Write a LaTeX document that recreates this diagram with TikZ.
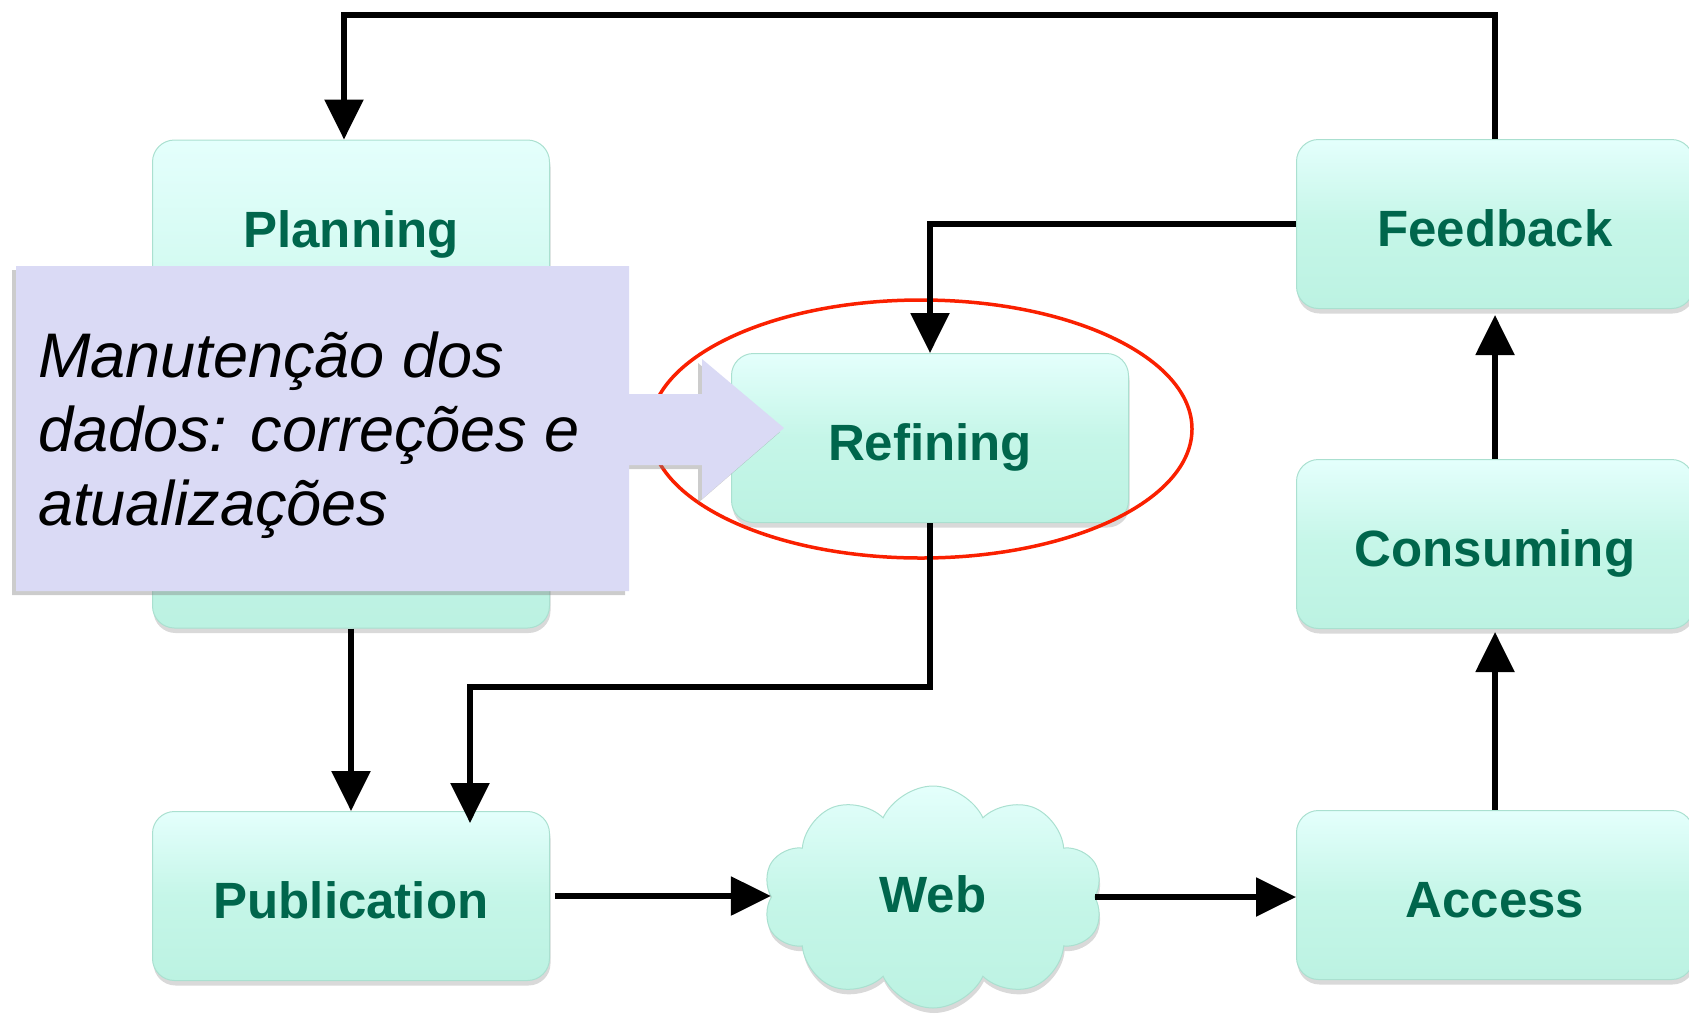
\documentclass[tikz,border=0pt]{standalone}
\usepackage{fontspec}
\setmainfont{Liberation Sans}
\usetikzlibrary{arrows.meta,shapes.symbols,shapes.geometric,shadows}

\definecolor{labelgreen}{RGB}{0,102,76}
\definecolor{mintTop}{RGB}{228,255,252}
\definecolor{mintMid}{RGB}{197,246,232}
\definecolor{mintBot}{RGB}{188,242,226}
\definecolor{mintEdge}{RGB}{170,224,208}
\definecolor{notefill}{RGB}{218,218,245}
\definecolor{ringred}{RGB}{250,32,0}

\begin{document}
\begin{tikzpicture}[x=1pt,y=-1pt,
  stagefill/.style={top color=mintTop, bottom color=mintBot, middle color=mintMid,
    draw=mintEdge, line width=1pt,
    drop shadow={shadow xshift=1pt, shadow yshift=-5pt, opacity=0.3}},
  stage/.style={stagefill, rectangle, rounded corners=22pt, inner sep=0pt,
    minimum width=397pt, minimum height=169pt,
    font=\fontsize{51}{51}\selectfont\bfseries, text=labelgreen,
    text height=45pt, text depth=0pt},
  stagelabel/.style={font=\fontsize{51}{51}\selectfont\bfseries, text=labelgreen,
    inner sep=0pt, anchor=base},
  webcloud/.style={stagefill, cloud, cloud puffs=10, cloud puff arc=130, aspect=1.5,
    inner sep=0pt, minimum width=340pt, minimum height=222pt,
    font=\fontsize{51}{51}\selectfont\bfseries, text=labelgreen,
    text height=30pt, text depth=0pt},
  focusring/.style={ellipse, draw=ringred, line width=3.5pt, inner sep=0pt,
    minimum width=542pt, minimum height=258pt},
  flow/.style={line width=5.5pt, -{Triangle[width=38pt,length=40pt]}},
  notetext/.style={font=\fontsize{63}{74}\selectfont\itshape, align=left,
    inner sep=0pt, anchor=north west}
]
\useasboundingbox (0,0) rectangle (1689,1013);

% process stages
\node[stage, minimum height=488pt] (planning) at (351,384) {};
\node[stagelabel] (planninglabel) at (351,247) {Planning};
\node[stage] (publication) at (351,896) {Publication};
\node[stage] (refining) at (930,438) {Refining};
\node[stage] (feedback) at (1495,224) {Feedback};
\node[stage] (consuming) at (1495,544) {Consuming};
\node[stage] (access) at (1495,895) {Access};
\node[webcloud] (web) at (933,897) {Web};

% highlight around the refining stage
\node[focusring] (focus) at (921,429) {};

% connectors
\coordinate (topleft) at (344,15);
\coordinate (refbend) at (470,687);
\draw[flow] (feedback.north) |- (topleft) -- (topleft |- planning.north);
\draw[flow] (feedback.west) -| (refining.north);
\draw[flow] (planning.south) -- (publication.north);
\draw[flow, shorten >=-12pt] (refining.south) |- (refbend) -- (refbend |- publication.north);
\draw[flow, shorten <=5pt] (publication.east) -- (publication.east -| web.west);
\draw[flow] (web.east) -- (web.east -| access.west);
\draw[flow, shorten >=3pt] (access.north) -- (consuming.south);
\draw[flow, shorten >=6pt] (consuming.north) -- (feedback.south);

% callout note pointing at the refining stage
\fill[notefill, drop shadow={shadow xshift=-4pt, shadow yshift=-4pt, opacity=0.4}]
  (16,266) -- (629,266) -- (629,394) -- (702,394) -- (702,359) -- (784,428)
  -- (702,499) -- (702,465) -- (629,465) -- (629,591) -- (16,591) -- cycle;
\node[notetext] (note) at (38,332) {Manutenção dos\\dados: correções e\\atualizações};
\end{tikzpicture}
\end{document}
